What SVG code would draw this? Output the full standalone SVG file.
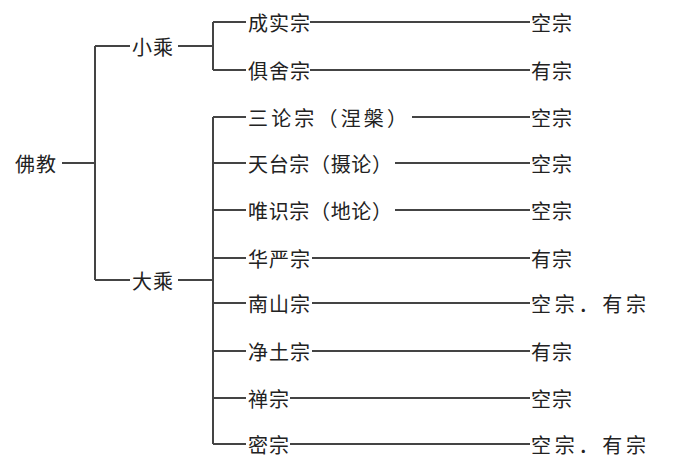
<svg xmlns="http://www.w3.org/2000/svg" width="700" height="470" viewBox="0 0 700 470">
<style>
text{font-family:"Noto Sans CJK SC","Noto Sans",sans-serif;font-size:20px;fill:#222;dominant-baseline:central;letter-spacing:1px}
.c line,.c path{stroke:#444;stroke-width:2;fill:none}
</style>
<rect width="700" height="470" fill="#fff"/>
<g class="c" id="connectors">
<path d="M62 163H95M95 46V280M95 46H130M95 280H130M178 46H213M178 280H213M213 22V70M213 117V444"/>
<path d="M213 22H246M213 70H246M213 117H246M213 163H246M213 210H246M213 258H246M213 303H246M213 351H246M213 398H246M213 444H246"/>
<path d="M310 22H530M310 70H530M412 117H530M395 163H530M395 210H530M312 258H530M312 303H530M312 351H530M290 398H530M290 444H530"/>
</g>
<g id="root"><text x="15" y="163">佛教</text></g>
<g id="xiaosheng"><text x="132" y="46">小乘</text></g>
<g id="dasheng"><text x="132" y="280">大乘</text></g>
<g id="n1"><text x="248" y="22">成实宗</text><text x="531" y="22">空宗</text></g>
<g id="n2"><text x="248" y="70">俱舍宗</text><text x="531" y="70">有宗</text></g>
<g id="n3"><text x="248" y="117" textLength="160">三论宗（涅槃）</text><text x="531" y="117">空宗</text></g>
<g id="n4"><text x="248" y="163" textLength="145">天台宗（摄论）</text><text x="531" y="163">空宗</text></g>
<g id="n5"><text x="248" y="210" textLength="145">唯识宗（地论）</text><text x="531" y="210">空宗</text></g>
<g id="n6"><text x="248" y="258">华严宗</text><text x="531" y="258">有宗</text></g>
<g id="n7"><text x="248" y="303">南山宗</text><text x="531" y="303" textLength="116">空宗．有宗</text></g>
<g id="n8"><text x="248" y="351">净土宗</text><text x="531" y="351">有宗</text></g>
<g id="n9"><text x="248" y="398">禅宗</text><text x="531" y="398">空宗</text></g>
<g id="n10"><text x="248" y="444">密宗</text><text x="531" y="444" textLength="116">空宗．有宗</text></g>
</svg>
